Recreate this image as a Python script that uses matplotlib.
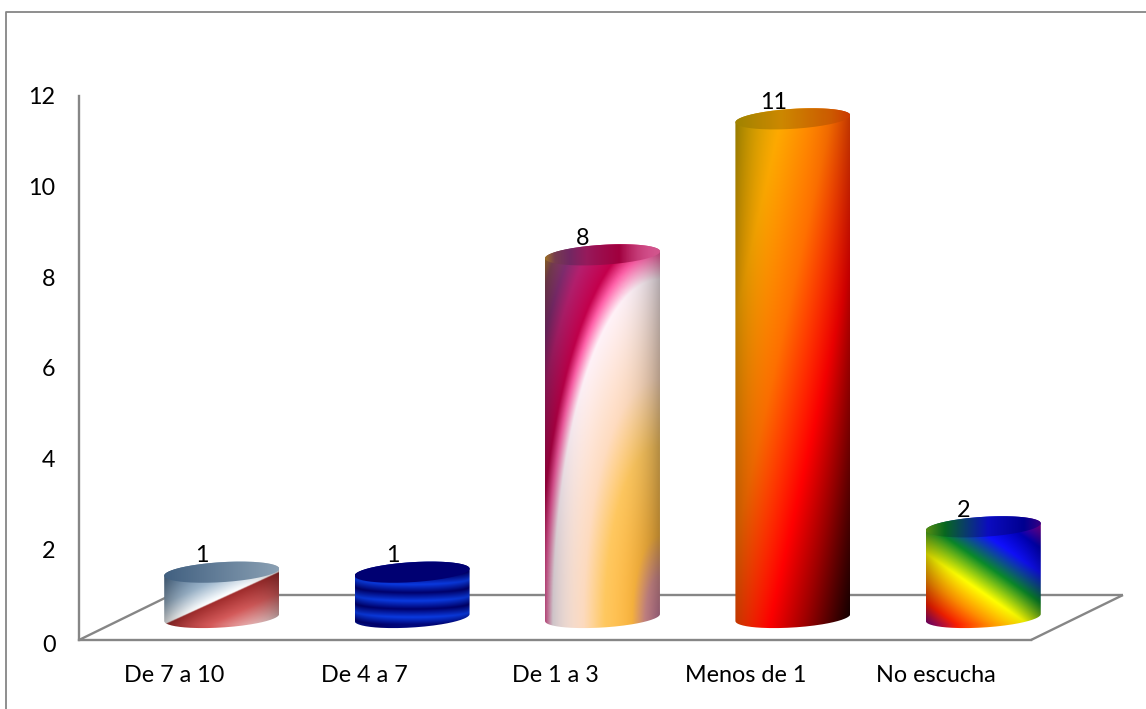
import numpy as np
import matplotlib
matplotlib.use("Agg")
import matplotlib.pyplot as plt
from matplotlib.colors import LinearSegmentedColormap
from matplotlib.lines import Line2D
from matplotlib.path import Path
from matplotlib.patches import PathPatch
from matplotlib.transforms import ScaledTranslation

categories = ["De 7 a 10", "De 4 a 7", "De 1 a 3", "Menos de 1", "No escucha"]
values = [1, 1, 8, 11, 2]
y_ticks = [0, 2, 4, 6, 8, 10, 12]

W, H = 1146, 709
GREY = "#868686"
FONT_SIZE = 16.8
plt.rcParams["font.family"] = ["Lato", "DejaVu Sans"]

fig = plt.figure(figsize=(W / 100, H / 100), dpi=100, facecolor="white")
FLOOR_L, FLOOR_R, FLOOR_Y, TOP_Y = 79, 1031, 640, 96
ax = fig.add_axes([FLOOR_L / W, 1 - FLOOR_Y / H, (FLOOR_R - FLOOR_L) / W, (FLOOR_Y - TOP_Y) / H])
ax.set_xlim(-0.5, 4.5)
ax.set_ylim(0, 12)
ax.set_facecolor("none")

PX = (FLOOR_R - FLOOR_L) / 5      # pixels per category
PY = (FLOOR_Y - TOP_Y) / 12       # pixels per unit of value
DEPTH_X, DEPTH_Y = 92 / PX, 45 / PY    # floor depth in data units
MID_X, MID_Y = 47.5 / PX, 22.5 / PY    # bars stand half-way back
HALF_W = 57.5 / PX
ELL_B = 10 / PY
TILT = 3.5 / PY


def ramp(name, stops):
    return LinearSegmentedColormap.from_list(name, stops, N=1024)


patriot_stops = [(0, "#4a6d92"), (0.3, "#9db6cc"), (0.47, "#f4f8fb"), (0.495, "#ffffff"),
                 (0.505, "#a02c2c"), (0.7, "#d45a5a"), (0.88, "#ecb4b4"), (1, "#f5efef")]
radial_stops = [(0, "#c87ca0"), (0.09, "#d89090"), (0.17, "#ffb840"), (0.34, "#ffc860"),
                (0.47, "#ffdcc0"), (0.66, "#fff2f8"), (0.71, "#ff60a8"),
                (0.75, "#c4004c"), (0.84, "#b82070"), (0.90, "#8a3078"), (0.96, "#904a60"),
                (1, "#c08a30")]
fire_stops = [(0, "#c8a400"), (0.2, "#ffaa00"), (0.42, "#ff7000"), (0.65, "#ff0000"),
              (0.8, "#a00000"), (1, "#180000")]
rainbow_stops = [(0, "#800080"), (0.12, "#ff2000"), (0.25, "#ff9000"), (0.4, "#ffff00"),
                 (0.57, "#0a8a2a"), (0.74, "#1010ff"), (0.88, "#0000c0"), (1, "#8000a0")]
stripe_stops = [(0, "#00006c"), (0.5, "#0a3ae0"), (1, "#00006c")]

CM_PATRIOT = ramp("patriot", patriot_stops)
CM_RADIAL = ramp("radial", radial_stops)
CM_FIRE = ramp("fire", fire_stops)
CM_RAINBOW = ramp("rainbow", rainbow_stops)
CM_STRIPE = ramp("stripe", stripe_stops)


def paint_patriot(u, v):
    return CM_PATRIOT((u + v) / 2 * 0.995)[..., :3]


def paint_stripes(u, v, top=False):
    curved = v * 3.2 - 0.35 * np.sqrt(np.clip(1 - (2 * u - 1) ** 2, 0, 1)) + 0.08
    if top:
        return np.broadcast_to(np.array([0, 0, 0.45]), u.shape + (3,)).copy()
    return CM_STRIPE(curved % 1)[..., :3]


def paint_radial(u, v):
    r = np.hypot(1 - u, 1 - v)
    return CM_RADIAL(np.clip(r / 1.4142, 0, 1))[..., :3]


def paint_fire(u, v):
    return CM_FIRE(np.clip((u + v) / 2, 0, 1))[..., :3]


def paint_rainbow(u, v):
    return CM_RAINBOW(np.clip(0.448 * u + 0.552 * (1 - v), 0, 1))[..., :3]


def shade(u, strength):
    return (1 - strength * np.abs(2 * u - 1) ** 3)[..., None]


def draw_cylinder(ax, x, value, paint, edge_shade, cap_shade, is_stripes=False,
                  cap_scale=1.0, cap_v=0.0):
    cx, base = x + MID_X, MID_Y
    top = base + value
    x0, x1 = cx - HALF_W, cx + HALF_W

    t_back = np.linspace(np.pi, 0, 80)
    t_front = np.linspace(0, -np.pi, 80)

    def ring(yc, t):
        return (cx + HALF_W * np.cos(t), yc + ELL_B * np.sin(t) + TILT * np.cos(t))

    bx, by = ring(top, t_back)
    fx, fy = ring(base, t_front)
    side = Path(np.column_stack([np.r_[bx, fx], np.r_[by, fy]]))
    cx_t, cy_t = ring(top, np.linspace(0, 2 * np.pi, 160))
    cap = Path(np.column_stack([cx_t, cy_t]))

    y_hi, y_lo = top + ELL_B + TILT, base - ELL_B - TILT
    ny = max(int((y_hi - y_lo) * PY * 2), 60)
    nx = 240
    u, yy = np.meshgrid(np.linspace(0, 1, nx), np.linspace(y_hi, y_lo, ny))

    side_top, side_bot = top, base - ELL_B * 0.7
    v = np.clip((side_top - yy) / (side_top - side_bot), 0, 1)
    rgb = paint(u, v) * shade(u, edge_shade)
    im = ax.imshow(rgb, extent=(x0, x1, y_lo, y_hi), aspect="auto", interpolation="bilinear", zorder=3)
    p = PathPatch(side, transform=ax.transData, facecolor="none", edgecolor="none")
    ax.add_patch(p)
    im.set_clip_path(p)
    im.set_clip_box(fig.bbox)

    cap_vv = np.full_like(u, cap_v)
    cap_u = u * cap_scale
    cap_rgb = paint(cap_u, cap_vv, top=True) if is_stripes else paint(cap_u, cap_vv)
    cap_rgb = cap_rgb * cap_shade
    im2 = ax.imshow(cap_rgb, extent=(x0, x1, y_lo, y_hi), aspect="auto", interpolation="bilinear", zorder=4)
    p2 = PathPatch(cap, transform=ax.transData, facecolor="none", edgecolor="none")
    ax.add_patch(p2)
    im2.set_clip_path(p2)
    im2.set_clip_box(fig.bbox)


styles = [
    dict(paint=paint_patriot, edge_shade=0.3, cap_shade=0.88, cap_scale=0.6),
    dict(paint=paint_stripes, edge_shade=0.12, cap_shade=1.0, is_stripes=True),
    dict(paint=paint_radial, edge_shade=0.3, cap_shade=0.82),
    dict(paint=paint_fire, edge_shade=0.25, cap_shade=0.8),
    dict(paint=paint_rainbow, edge_shade=0.25, cap_shade=0.75, cap_v=0.1),
]
for i, (val, style) in enumerate(zip(values, styles)):
    draw_cylinder(ax, i, val, **style)
    ax.text(i + 28 / PX, val + 32.6 / PY, str(val), ha="center", va="baseline",
            fontsize=FONT_SIZE, color="black", zorder=5)

# Restore the limits changed by imshow
ax.set_xlim(-0.5, 4.5)
ax.set_ylim(0, 12)

# Floor outline behind the bars
xl, xr = -0.5, 4.5
floor = [([xl, xl + DEPTH_X], [0, DEPTH_Y]),
         ([xl + DEPTH_X, xr + DEPTH_X], [DEPTH_Y, DEPTH_Y]),
         ([xr, xr + DEPTH_X], [0, DEPTH_Y])]
for fx, fy in floor:
    ax.plot(fx, fy, color=GREY, lw=1.7, zorder=1, clip_on=False, solid_capstyle="butt")

for s in ("top", "right"):
    ax.spines[s].set_visible(False)
for s in ("left", "bottom"):
    ax.spines[s].set_color(GREY)
    ax.spines[s].set_linewidth(1.7)
    ax.spines[s].set_zorder(2)

ax.set_xticks(range(len(categories)))
ax.set_xticklabels(categories)
ax.set_yticks(y_ticks)
ax.tick_params(axis="x", length=0, pad=18, labelsize=FONT_SIZE)
ax.tick_params(axis="y", length=0, pad=17, labelsize=FONT_SIZE)

# The zero label sits slightly below its gridline position
zero_label = ax.get_yticklabels()[0]
zero_label.set_transform(zero_label.get_transform() + ScaledTranslation(0, -0.04, fig.dpi_scale_trans))

# Outer chart frame
fig.add_artist(Line2D([5.5 / W, 5.5 / W, 1], [0, 1 - 11.5 / H, 1 - 11.5 / H],
                      color=GREY, lw=1.3, transform=fig.transFigure))

fig.savefig("out.png", dpi=100)
